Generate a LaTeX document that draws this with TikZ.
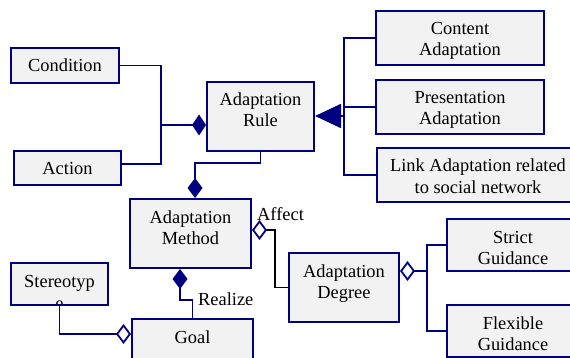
\documentclass[tikz,border=0pt]{standalone}
\usepackage{fontspec}
\setmainfont{Liberation Serif}
\usetikzlibrary{arrows.meta}
\definecolor{navy}{RGB}{0,0,128}
\definecolor{boxgray}{RGB}{242,242,242}
% stacked, top-aligned lines of a box label
\newcommand\stack[1]{\begin{tabular}[t]{@{}c@{}}#1\end{tabular}}
\tikzset{
  txt/.style={font=\fontsize{18.4}{21}\selectfont, inner sep=0pt},
  box/.style={txt, draw=navy, line width=2pt, fill=boxgray, anchor=north west,
              text height=24pt, minimum height=0pt},
  link/.style={draw=navy, line width=1.8pt},
  filledH/.style={-{Diamond[length=14pt, width=21pt]}},
  filledV/.style={-{Diamond[length=20pt, width=15pt]}},
  hollow/.style={-{Diamond[length=15pt, width=20pt, fill=white, color=navy]}},
  general/.style={-{Triangle[length=26pt, width=24pt]}}
}
\begin{document}
\begin{tikzpicture}[x=1pt, y=-1pt]
\useasboundingbox (0,0) rectangle (570,358);
\fill[white] (0,0) rectangle (570,358);

% classes
\node[box, minimum width=108pt, text depth=11pt] (cond) at (10,47) {Condition};
\node[box, minimum width=107pt, text depth=10pt] (action) at (13,150) {Action};
\node[box, minimum width=107pt, text depth=45pt] (rule) at (206,81) {\stack{Adaptation\\Rule}};
\node[box, minimum width=168pt, text depth=30pt] (content) at (375,10) {\stack{Content\\Adaptation}};
\node[box, minimum width=168pt, text depth=30pt] (pres) at (375,79) {\stack{Presentation\\Adaptation}};
\node[box, minimum width=202pt, text depth=30pt] (linkad) at (376,147) {\stack{Link Adaptation related\\to social network}};
\node[box, minimum width=121pt, text depth=45pt] (method) at (129,198) {\stack{Adaptation\\Method}};
\node[box, minimum width=110pt, text depth=45pt] (degree) at (288,252) {\stack{Adaptation\\Degree}};
\node[box, minimum width=132pt, text depth=28pt] (strict) at (446,218) {\stack{Strict\\Guidance}};
\node[box, minimum width=132pt, text depth=28pt] (flexible) at (446,304) {\stack{Flexible\\Guidance}};
\node[box, minimum width=97pt, text depth=18pt,
      path picture={\node[txt, anchor=base] (stereoE)
        at ([yshift=-46.5pt]path picture bounding box.north) {e};}]
      (stereo) at (10,262) {Stereotyp};
\node[box, minimum width=121pt, text depth=45pt] (goal) at (131,318) {Goal};

% junction points
\coordinate (j1) at (161,125);
\coordinate (j2) at (161,164);
\coordinate (m1) at (195,163);
\coordinate (bus) at (344,116);
\coordinate (a1) at (275,230);
\coordinate (d1) at (427,271);
\coordinate (r1) at (180,300);
\coordinate (g1) at (131,334);

% rule composed of condition and action
\draw[link] (cond.east) -| (j2) -- (j2 -| action.east);
\draw[link, filledH] (j1) -- (j1 -| rule.west);

% rule contained in method
\draw[link, filledV] (rule.south) |- (m1) -- (m1 |- method.north);

% kinds of adaptation
\draw[link] (content.west) -| (bus |- linkad.west) -- (linkad.west);
\draw[link] (pres.west) -- (pres.west -| bus);
\draw[link, general] (bus) -- (bus -| rule.east);

% method affects degree
\draw[line width=1.8pt, black, hollow] (degree.west) -| (a1) -- (a1 -| method.east);
\node[txt, anchor=base west] (affect) at (257,220.5) {Affect};

% kinds of guidance
\draw[link] (strict.west) -| (d1 |- flexible.west) -- (flexible.west);
\draw[link, hollow] (d1) -- (d1 -| degree.east);

% method realizes goal
\draw[link, filledV] (goal.north) |- (r1) -- (r1 |- method.south);
\node[txt, anchor=base west] (realize) at (198,305) {Realize};

% stereotype attached to goal
\draw[link, hollow] (stereo.south) |- (g1);
\end{tikzpicture}
\end{document}
